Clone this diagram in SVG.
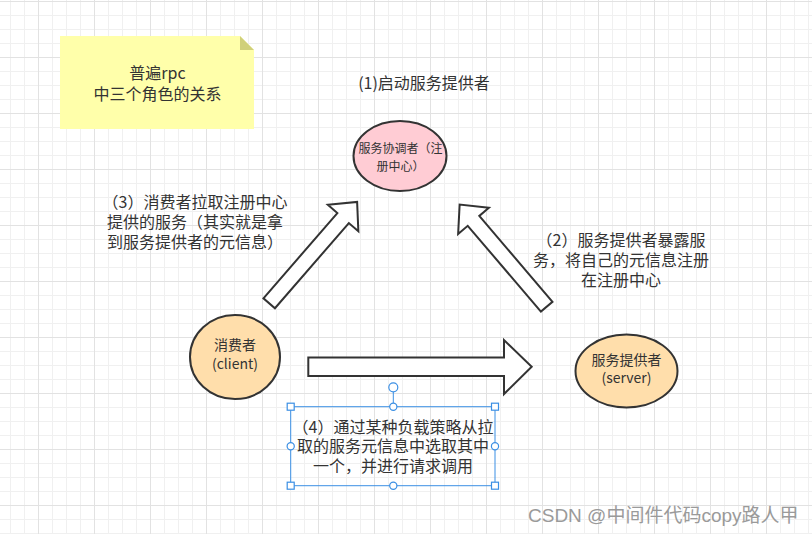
<svg xmlns="http://www.w3.org/2000/svg" width="812" height="534" viewBox="0 0 812 534">
<defs>
<pattern id="grid" patternUnits="userSpaceOnUse" x="10" y="1" width="56" height="56">
<rect x="0" y="0" width="56" height="56" fill="#ffffff"/>
<g fill="#f0f0f0">
<rect x="0" y="0" width="1" height="56"/><rect x="14" y="0" width="1" height="56"/><rect x="42" y="0" width="1" height="56"/>
<rect x="0" y="14" width="56" height="1"/><rect x="0" y="28" width="56" height="1"/><rect x="0" y="42" width="56" height="1"/>
</g>
<g fill="#e2e2e2">
<rect x="28" y="0" width="1" height="56"/>
<rect x="0" y="0" width="56" height="1"/>
</g>
</pattern>
<polygon id="diagArrow" points="0,-7.6 112.8,-7.6 112.8,-20.2 134.2,0 112.8,20.2 112.8,7.6 0,7.6"/>
</defs>
<style>
.t{font-family:"Noto Sans CJK SC","Noto Sans",sans-serif;fill:#333333;text-anchor:middle}
.t16{font-size:16px}
.t14{font-size:14px}
.t12{font-size:12px}
.arrow{fill:#ffffff;stroke:#333333;stroke-width:2;stroke-linejoin:miter}
.node{stroke:#333333;stroke-width:2}
.sel{fill:none;stroke:#3b8fe4;stroke-width:1}
.hnd{fill:#ffffff;stroke:#3b8fe4;stroke-width:1.2}
</style>
<rect x="0" y="0" width="812" height="534" fill="url(#grid)"/>

<g id="note">
<polygon points="60,36 240,36 254,50 254,129 60,129" fill="#ffffaa"/>
<polygon points="240,36 254,50 240,50" fill="#d0d07a"/>
<text class="t t16" x="157.5" y="79">普遍rpc</text>
<text class="t t16" x="157.5" y="99.5">中三个角色的关系</text>
</g>

<g id="label1">
<text class="t t16" x="424" y="89">(1)启动服务提供者</text>
</g>

<g id="registry">
<ellipse class="node" cx="400" cy="156" rx="46.5" ry="35" fill="#ffccd4"/>
<text class="t t12" x="400.5" y="152.5">服务协调者（注</text>
<text class="t t12" x="400.5" y="170.5">册中心）</text>
</g>

<g id="label3">
<text class="t t16" x="195" y="207.7">（3）消费者拉取注册中心</text>
<text class="t t16" x="195" y="227.7">提供的服务（其实就是拿</text>
<text class="t t16" x="195" y="247.7">到服务提供者的元信息）</text>
</g>

<g id="label2">
<text class="t t16" x="621" y="246">（2）服务提供者暴露服</text>
<text class="t t16" x="621" y="266">务，将自己的元信息注册</text>
<text class="t t16" x="621" y="286">在注册中心</text>
</g>

<g id="consumer">
<ellipse class="node" cx="235" cy="357" rx="45" ry="42" fill="#ffdeab"/>
<text class="t t14" x="235" y="350.2">消费者</text>
<text class="t t14" x="235" y="368.5">(client)</text>
</g>

<g id="provider">
<ellipse class="node" cx="626.5" cy="371" rx="51" ry="36.5" fill="#ffdeab"/>
<text class="t t14" x="626.5" y="364.5">服务提供者</text>
<text class="t t14" x="626.5" y="382.5">(server)</text>
</g>

<g id="connectors">
<use href="#diagArrow" class="arrow" transform="translate(269.2,303.3) rotate(-49.07)"/>
<use href="#diagArrow" class="arrow" transform="translate(546.7,306.7) rotate(-130.45)"/>
<polygon class="arrow" points="308.3,357.6 504,357.6 504,340 531.7,366.8 504,394 504,376 308.3,376"/>
</g>

<g id="label4">
<rect class="sel" x="290.7" y="406.7" width="204.3" height="79"/>
<line class="sel" x1="393.3" y1="391.8" x2="393.3" y2="406.7"/>
<circle class="hnd" cx="393.3" cy="387.3" r="4.5"/>
<rect class="hnd" x="287.2" y="403.2" width="7" height="7"/>
<rect class="hnd" x="491.5" y="403.2" width="7" height="7"/>
<rect class="hnd" x="287.2" y="482.2" width="7" height="7"/>
<rect class="hnd" x="491.5" y="482.2" width="7" height="7"/>
<circle class="hnd" cx="393.3" cy="406.7" r="3.6"/>
<circle class="hnd" cx="393.3" cy="485.7" r="3.6"/>
<circle class="hnd" cx="290.7" cy="446.2" r="3.6"/>
<circle class="hnd" cx="495" cy="446.2" r="3.6"/>
<text class="t t16" x="393" y="432.7">（4）通过某种负载策略从拉</text>
<text class="t t16" x="393" y="451.7">取的服务元信息中选取其中</text>
<text class="t t16" x="393" y="471.7">一个，并进行请求调用</text>
</g>

<text x="528" y="521.5" font-family="'Liberation Sans','Noto Sans CJK SC',sans-serif" font-size="19" fill="#9a9a9a">CSDN @中间件代码copy路人甲</text>
</svg>
